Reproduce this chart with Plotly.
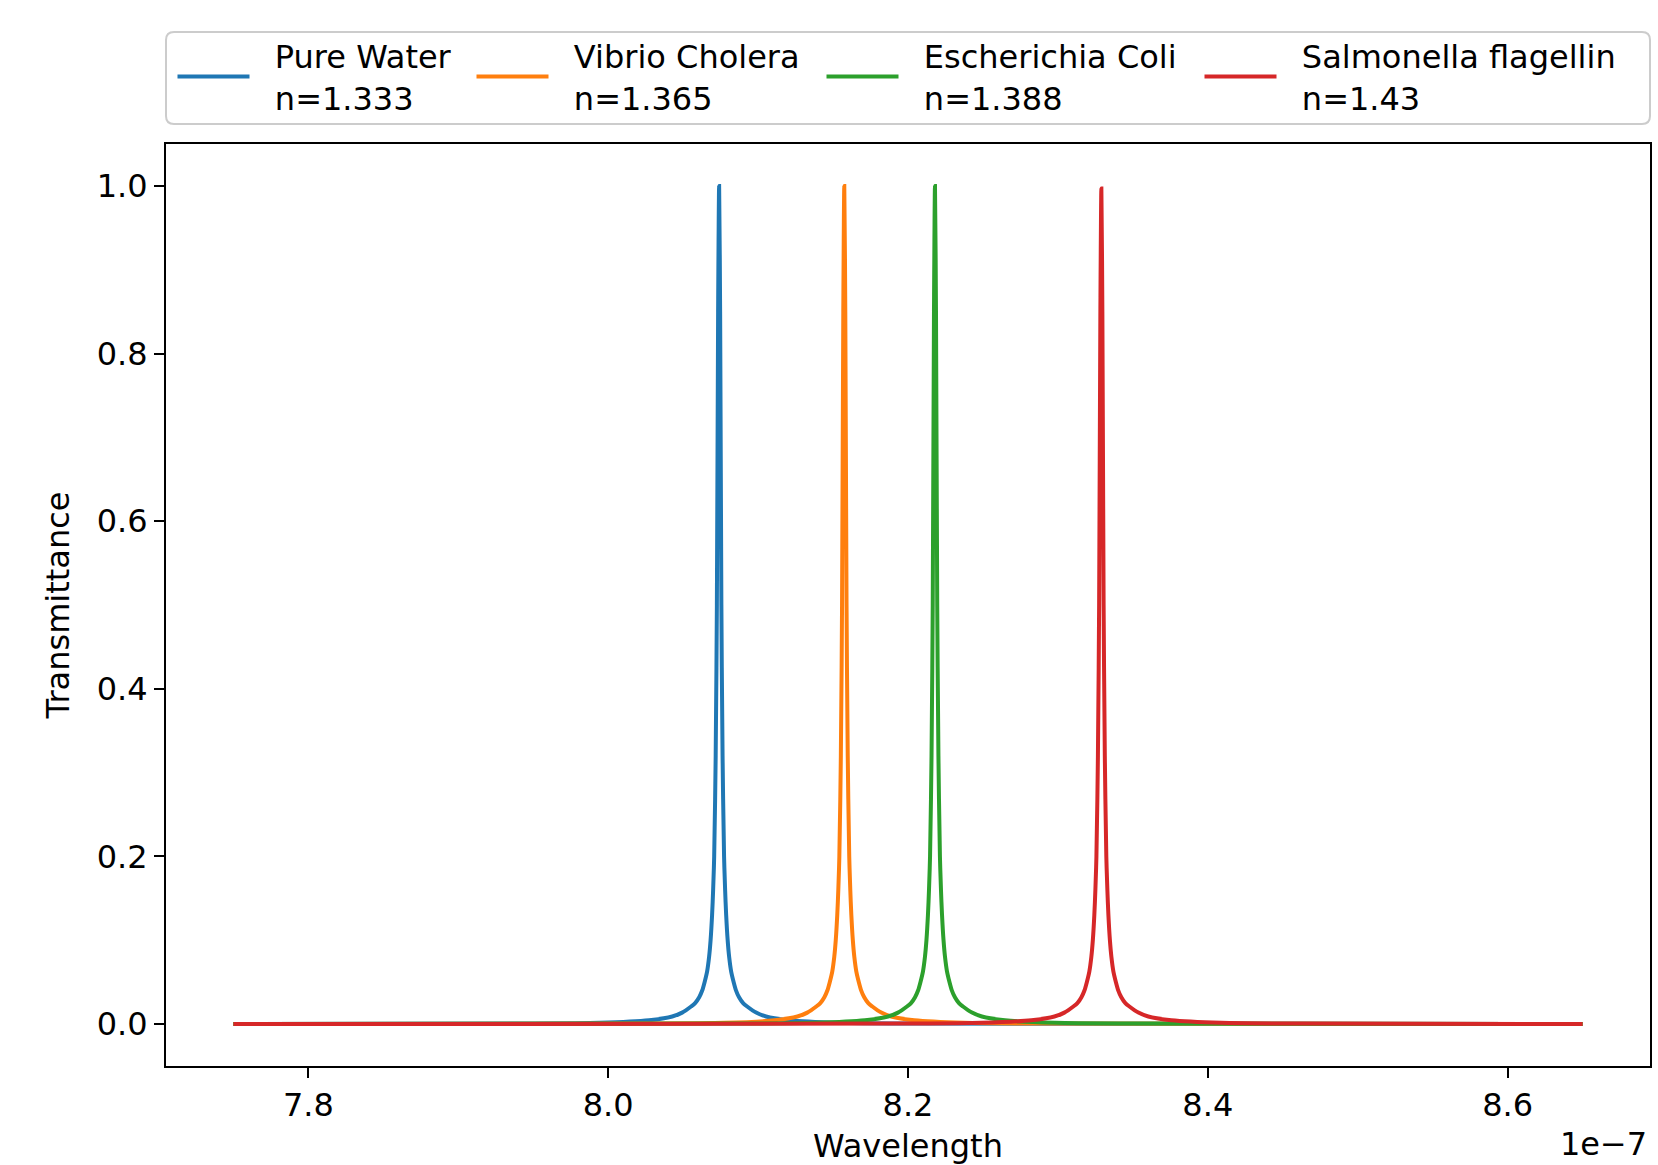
import plotly.graph_objects as go

# Wavelength in units of 1e-7 m (axis offset label "1e−7")
water_x = [7.75, 7.9407, 7.994, 8.0273, 8.0427, 8.0493, 8.0553, 8.058, 8.0607, 8.0627, 8.0643, 8.066, 8.0673,
           8.0683, 8.0693, 8.070, 8.0707, 8.0717, 8.0725, 8.07333, 8.074,
           8.07467, 8.0755, 8.0763, 8.0773, 8.078, 8.0787, 8.0797, 8.0807, 8.082, 8.0837, 8.0853, 8.0873,
           8.09, 8.0927, 8.0987, 8.1053, 8.1207, 8.154, 8.2073, 8.65]
vibrio_x = [7.75, 8.0242, 8.0775, 8.1108, 8.1262, 8.1328, 8.1388, 8.1415, 8.1442, 8.1462, 8.1478, 8.1495, 8.1508,
            8.1518, 8.1528, 8.1535, 8.1542, 8.1552, 8.156, 8.15683, 8.1575,
            8.15817, 8.159, 8.1598, 8.1608, 8.1615, 8.1622, 8.1632, 8.1642, 8.1655, 8.1672, 8.1688, 8.1708,
            8.1735, 8.1762, 8.1822, 8.1888, 8.2042, 8.2375, 8.2908, 8.65]
ecoli_x = [7.75, 8.0847, 8.138, 8.1713, 8.1867, 8.1933, 8.1993, 8.202, 8.2047, 8.2067, 8.2083, 8.21, 8.2113,
           8.2123, 8.2133, 8.214, 8.2147, 8.2157, 8.2165, 8.21733, 8.218,
           8.21867, 8.2195, 8.2203, 8.2213, 8.222, 8.2227, 8.2237, 8.2247, 8.226, 8.2277, 8.2293, 8.2313,
           8.234, 8.2367, 8.2427, 8.2493, 8.2647, 8.298, 8.3513, 8.65]
salmonella_x = [7.75, 8.1957, 8.249, 8.2823, 8.2977, 8.3043, 8.3103, 8.313, 8.3157, 8.3177, 8.3193, 8.321, 8.3223,
                8.3233, 8.3243, 8.325, 8.3257, 8.3267, 8.3275, 8.32833, 8.329,
                8.32967, 8.3305, 8.3313, 8.3323, 8.333, 8.3337, 8.3347, 8.3357, 8.337, 8.3387, 8.3403, 8.3423,
                8.345, 8.3477, 8.3537, 8.3603, 8.3757, 8.409, 8.4623, 8.65]

water_y = [0, 0.0006, 0.0015, 0.0045, 0.009, 0.0137, 0.021, 0.025, 0.032, 0.040, 0.050, 0.063, 0.080,
           0.100, 0.130, 0.16, 0.2, 0.32, 0.5, 0.85, 1.0,
           0.85, 0.5, 0.32, 0.2, 0.16, 0.130, 0.100, 0.080, 0.063, 0.050, 0.040, 0.032,
           0.025, 0.021, 0.0137, 0.009, 0.0045, 0.0015, 0.0006, 0]
vibrio_y = [0, 0.0006, 0.0015, 0.0045, 0.009, 0.0137, 0.021, 0.025, 0.032, 0.040, 0.050, 0.063, 0.080,
            0.100, 0.130, 0.16, 0.2, 0.32, 0.5, 0.85, 1.0,
            0.85, 0.5, 0.32, 0.2, 0.16, 0.130, 0.100, 0.080, 0.063, 0.050, 0.040, 0.032,
            0.025, 0.021, 0.0137, 0.009, 0.0045, 0.0015, 0.0006, 0]
ecoli_y = [0, 0.0006, 0.0015, 0.0045, 0.009, 0.0137, 0.021, 0.025, 0.032, 0.040, 0.050, 0.063, 0.080,
           0.100, 0.130, 0.16, 0.2, 0.32, 0.5, 0.85, 1.0,
           0.85, 0.5, 0.32, 0.2, 0.16, 0.130, 0.100, 0.080, 0.063, 0.050, 0.040, 0.032,
           0.025, 0.021, 0.0137, 0.009, 0.0045, 0.0015, 0.0006, 0]
salmonella_y = [0, 0.0006, 0.0015, 0.0045, 0.009, 0.0137, 0.021, 0.025, 0.032, 0.040, 0.050, 0.063, 0.080,
                0.100, 0.130, 0.16, 0.2, 0.32, 0.5, 0.85, 0.997,
                0.85, 0.5, 0.32, 0.2, 0.16, 0.130, 0.100, 0.080, 0.063, 0.050, 0.040, 0.032,
                0.025, 0.021, 0.0137, 0.009, 0.0045, 0.0015, 0.0006, 0]

series_names = ["Pure Water<br>n=1.333", "Vibrio Cholera<br>n=1.365",
                "Escherichia Coli<br>n=1.388", "Salmonella flagellin<br>n=1.43"]
series_x = [water_x, vibrio_x, ecoli_x, salmonella_x]
series_y = [water_y, vibrio_y, ecoli_y, salmonella_y]
colors = ["#1f77b4", "#ff7f0e", "#2ca02c", "#d62728"]

x_ticks = [7.8, 8.0, 8.2, 8.4, 8.6]
y_ticks = [0.0, 0.2, 0.4, 0.6, 0.8, 1.0]

FONT = "DejaVu Sans"
FS = 32
LFS = 32

fig = go.Figure()
legend_ids = ["legend", "legend2", "legend3", "legend4"]
for name, xs, ys, c, lg in zip(series_names, series_x, series_y, colors, legend_ids):
    label = "<br>".join("\u00a0\u00a0" + part for part in name.split("<br>"))
    fig.add_trace(go.Scatter(x=xs, y=ys, mode="lines", name=label,
                             line=dict(color=c, width=4, shape="spline", smoothing=0.8), legend=lg))

W, H = 1658, 1165
ml, mr, mt, mb = 166, 8, 144, 99
pw, ph = W - ml - mr, H - mt - mb

def px_x(p):
    return (p - ml) / pw

def px_y(p):
    return 1 + (mt - p) / ph

legend_px = [178, 477, 827, 1205]
leg_common = dict(orientation="v", xanchor="left", yanchor="middle",
                  bgcolor="rgba(0,0,0,0)", borderwidth=0, itemwidth=72,
                  font=dict(family=FONT, size=LFS, color="black"),
                  tracegroupgap=0, valign="middle")
layout_legends = {}
for lg, p in zip(legend_ids, legend_px):
    d = dict(leg_common)
    d.update(x=px_x(p - 5.5), y=px_y(77))
    layout_legends[lg] = d

# Legend frame (rounded)
x0, x1 = px_x(166), px_x(1650)
y0, y1 = px_y(124), px_y(32)
rx, ry = 8 / pw, 8 / ph
frame = (f"M{x0+rx},{y0} L{x1-rx},{y0} Q{x1},{y0} {x1},{y0+ry} L{x1},{y1-ry} Q{x1},{y1} {x1-rx},{y1} "
         f"L{x0+rx},{y1} Q{x0},{y1} {x0},{y1-ry} L{x0},{y0+ry} Q{x0},{y0} {x0+rx},{y0} Z")

fig.update_layout(
    width=W, height=H,
    margin=dict(l=ml, r=mr, t=mt, b=mb, autoexpand=False),
    paper_bgcolor="white", plot_bgcolor="white",
    font=dict(family=FONT, size=FS, color="black"),
    showlegend=True,
    shapes=[dict(type="path", xref="paper", yref="paper", path=frame,
                 line=dict(color="#cccccc", width=2), fillcolor="rgba(255,255,255,0.8)", layer="below")],
    annotations=[dict(text="1e\u22127", xref="paper", yref="paper", x=px_x(1649), y=px_y(1144),
                      xanchor="right", yanchor="middle", showarrow=False,
                      font=dict(family=FONT, size=FS, color="black"))],
    **layout_legends,
)

fig.update_xaxes(range=[7.705, 8.695], tickvals=x_ticks, ticktext=[f"{v:.1f}" for v in x_ticks],
                 showgrid=False, zeroline=False, showline=True, mirror=True,
                 linecolor="black", linewidth=2, ticks="outside", ticklen=10, tickwidth=2,
                 tickcolor="black",
                 title=dict(text="Wavelength", standoff=17, font=dict(family=FONT, size=FS, color="black")),
                 tickfont=dict(family=FONT, size=FS, color="black"))
fig.update_yaxes(range=[-0.05, 1.05], tickvals=y_ticks, ticktext=[f"{v:.1f}" for v in y_ticks],
                 showgrid=False, zeroline=False, showline=True, mirror=True,
                 linecolor="black", linewidth=2, ticks="outside", ticklen=10, tickwidth=2,
                 tickcolor="black",
                 title=dict(text="Transmittance", standoff=18, font=dict(family=FONT, size=FS, color="black")),
                 tickfont=dict(family=FONT, size=FS, color="black"))

fig.write_html("out.html", config={"displayModeBar": False},
               post_script="document.body.style.margin='0';document.body.style.overflow='hidden';")
